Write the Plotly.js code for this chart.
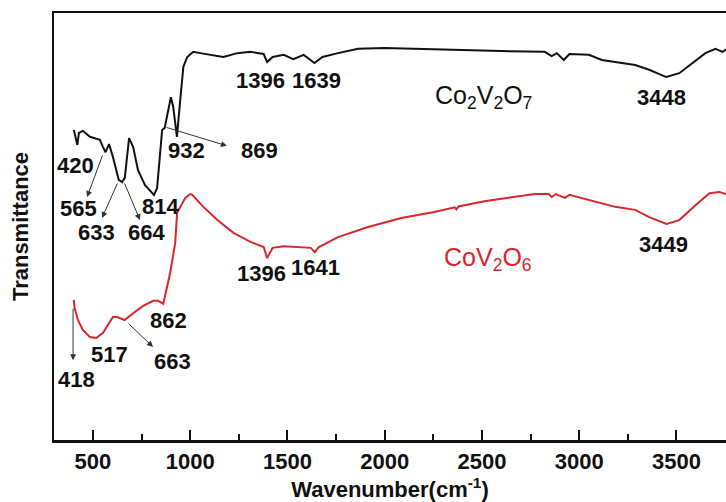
<!DOCTYPE html>
<html><head><meta charset="utf-8">
<script src="https://cdn.plot.ly/plotly-3.0.1.min.js"></script>
<style>html,body{margin:0;padding:0;background:#fff}#chart{width:726px;height:502px}</style>
</head><body><div id="chart"></div>
<script>
// Co2V2O7 spectrum (wavenumber, transmittance a.u.)
var coVWn = [402,420,428,448,485,536,552,565,583,603,633,650,664,686,707,732,768,814,830,856,869,888,901,913,932,949,965,985,1016,1052,1104,1171,1243,1310,1378,1396,1424,1481,1530,1584,1639,1680,1760,1863,1997,2173,2307,2601,2823,2859,2885,2921,2950,3050,3117,3185,3288,3360,3448,3515,3582,3649,3701,3737,3768];
var coVT  = [72.6,69.1,71.9,72.4,71.0,70.3,68.6,67.4,69.3,66.3,60.9,60.4,61.4,70.7,68.6,63.2,59.7,57.4,59.0,72.6,73.1,77.3,80.3,78.0,71.0,79.6,87.4,89.7,90.9,90.6,90.2,89.7,90.6,90.9,90.4,88.5,89.7,90.2,89.2,90.2,88.3,89.7,90.6,91.6,91.8,91.6,91.3,91.1,90.9,89.9,90.6,89.0,90.4,90.2,89.0,88.5,87.8,86.7,85.0,85.9,88.3,90.6,91.6,90.9,91.8];
// CoV2O6 spectrum
var cvWn = [402,405,423,448,485,517,552,603,624,663,707,758,810,835,862,897,923,933,975,1000,1011,1068,1140,1223,1310,1378,1396,1424,1481,1553,1620,1641,1662,1760,1915,2085,2255,2360,2369,2380,2513,2601,2689,2772,2844,2859,2880,2926,2950,3102,3185,3288,3360,3449,3515,3598,3670,3721,3768];
var cvT  = [32.8,31.1,28.1,25.8,24.1,23.9,25.1,28.8,28.8,28.1,29.7,31.4,32.6,32.6,31.9,39.1,46.1,53.2,56.7,57.6,57.4,54.6,51.5,48.5,46.4,45.2,42.6,45.0,45.4,45.2,45.0,44.0,45.2,47.5,49.9,52.0,53.4,54.5,54.0,54.7,55.9,56.5,57.1,57.6,57.6,56.9,57.6,56.7,57.4,55.7,54.6,53.9,52.2,50.6,51.5,55.0,57.8,58.1,57.4];

var xTickVals = [500,1000,1500,2000,2500,3000,3500];
var xTickText = ['500','1000','1500','2000','2500','3000','3500'];

// peak labels: [text, wavenumber, transmittance]
var blackLabels = [['420',408,64.2],['565',428,54.1],['633',521,48.7],['664',778,48.7],['814',845,54.8],['932',979,67.7],['869',1354,67.7],['1396',1364,84.3],['1639',1652,84.3],['3448',3421,80.3]];
var redLabels = [['418',418,14.1],['517',583,20.1],['862',891,28.1],['663',907,18.3],['1396',1369,38.9],['1641',1647,40.3],['3449',3436,45.7]];
// arrows: [tailWn, tailT, headWn, headT]
var arrows = [[552,67.0,470,56.9],[629,60.4,547,52.0],[660,60.4,742,51.5],[871,73.3,1189,68.9],[398,31.1,398,18.7],[675,27.6,809,21.8]];

var RED = '#d8262c';
var FONT = 'Liberation Sans, Arial, sans-serif';

var traces = [
  {x: coVWn, y: coVT, mode: 'lines', line: {color: '#111', width: 2}, hoverinfo: 'skip'},
  {x: cvWn, y: cvT, mode: 'lines', line: {color: RED, width: 2}, hoverinfo: 'skip'}
];

var ann = [];
blackLabels.concat(redLabels).forEach(function(l){
  ann.push({x: l[1], y: l[2], xref: 'x', yref: 'y', text: l[0], showarrow: false,
    font: {family: FONT, size: 22, color: '#111', weight: 'bold'}});
});
ann.push({x: 2506, y: 80.3, xref: 'x', yref: 'y', text: 'Co<sub>2</sub>V<sub>2</sub>O<sub>7</sub>', showarrow: false,
  font: {family: FONT, size: 25, color: '#111'}});
ann.push({x: 2531, y: 42.4, xref: 'x', yref: 'y', text: 'CoV<sub>2</sub>O<sub>6</sub>', showarrow: false,
  font: {family: FONT, size: 25, color: RED}});
arrows.forEach(function(a){
  ann.push({x: a[2], y: a[3], ax: a[0], ay: a[1], xref: 'x', yref: 'y', axref: 'x', ayref: 'y',
    text: '', showarrow: true, arrowhead: 2, arrowsize: 1.2, arrowwidth: 1, arrowcolor: '#333'});
});

var layout = {
  width: 726, height: 502,
  margin: {l: 54, r: 0, t: 13, b: 62},
  paper_bgcolor: '#fff', plot_bgcolor: '#fff',
  showlegend: false,
  xaxis: {range: [300, 3755], showgrid: false, zeroline: false,
    showline: true, mirror: true, linecolor: '#111', linewidth: 2.5,
    ticks: 'inside', ticklen: 10, tickwidth: 2, tickcolor: '#111',
    tickvals: xTickVals, ticktext: xTickText,
    minor: {ticks: 'inside', ticklen: 6, tickwidth: 2, tickcolor: '#111', tick0: 250, dtick: 500, showgrid: false},
    tickfont: {family: FONT, size: 22, color: '#111', weight: 'bold'},
    title: {text: 'Wavenumber(cm<sup>-1</sup>)', font: {family: FONT, size: 22, color: '#111', weight: 'bold'}, standoff: 3}
  },
  yaxis: {range: [0, 100], showgrid: false, zeroline: false,
    showline: true, linecolor: '#111', linewidth: 2.5, ticks: '', showticklabels: false,
    title: {text: 'Transmittance', font: {family: FONT, size: 22, color: '#111', weight: 'bold'}, standoff: 17}
  },
  annotations: ann
};
Plotly.newPlot('chart', traces, layout, {displayModeBar: false, staticPlot: true});
</script></body></html>
